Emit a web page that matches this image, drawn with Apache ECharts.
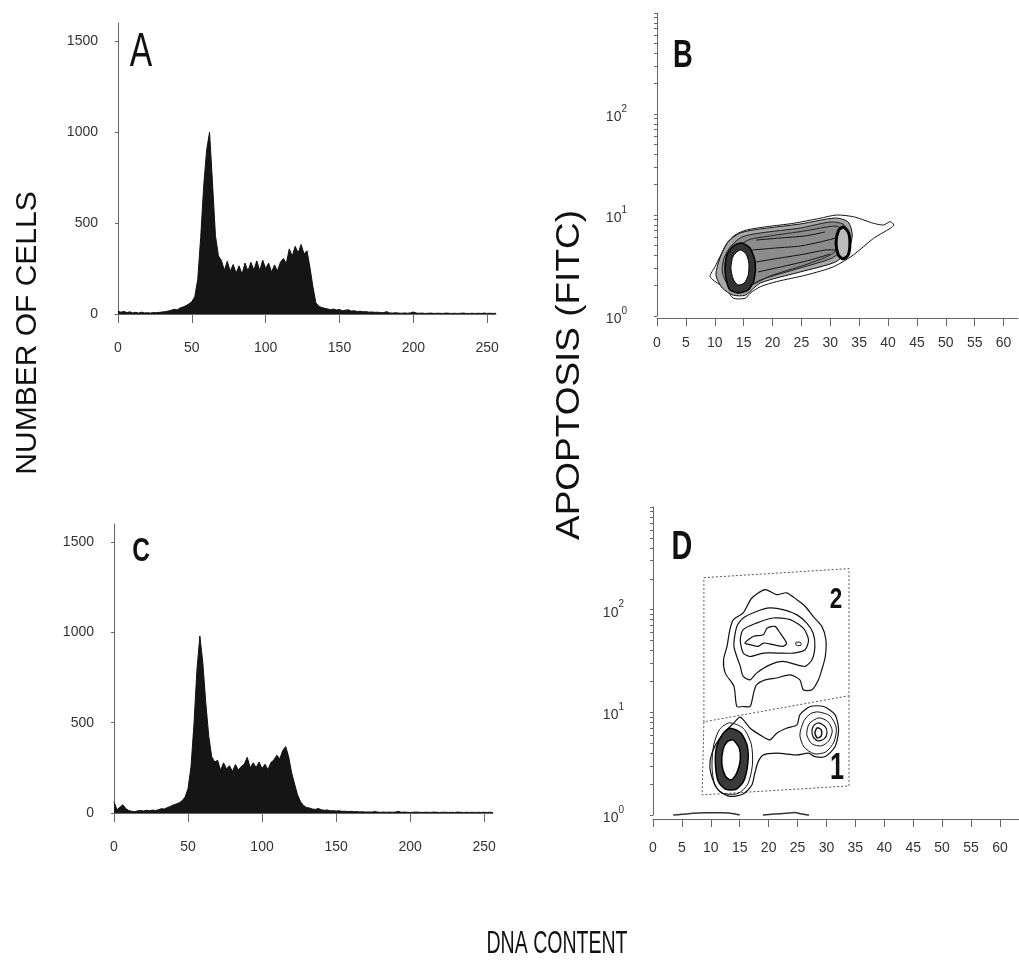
<!DOCTYPE html>
<html><head><meta charset="utf-8">
<script src="https://cdn.jsdelivr.net/npm/echarts@6/dist/echarts.min.js"></script>
<style>html,body{margin:0;padding:0;background:#fff}#c{width:1019px;height:969px}</style>
</head><body><div id="c"></div>
<script>
// ---------- tick labels ----------
const histTicks = [0, 50, 100, 150, 200, 250];
const countTicks = [0, 500, 1000, 1500];
const fitcTicks = [1, 10, 100];
const fitcMinorTicks = [1,2,3,4,5,6,7,8,9,10,20,30,40,50,60,70,80,90,100,200,300,400,500,600,700,800,900,1000];
const dnaTicks = [0, 5, 10, 15, 20, 25, 30, 35, 40, 45, 50, 55, 60];

// ---------- histograms (channel bins of width 2) ----------
const channelStep = 2;
const histA = [15,10,14,8,12,6,9,5,10,6,7,5,8,7,9,11,13,16,20,26,22,33,38,46,55,68,95,190,420,700,900,1000,720,430,320,295,240,290,235,272,225,265,218,280,236,284,242,292,238,296,250,280,230,270,236,285,305,278,358,318,372,336,382,330,348,255,150,62,42,36,31,28,24,27,22,25,18,21,23,16,18,14,15,12,13,10,11,9,10,7,8,13,6,5,7,5,4,6,4,6,11,5,4,5,3,4,5,3,4,4,3,5,4,3,4,3,4,5,3,3,4,3,4,3,5,3,4,3,4];
const histC = [62,18,32,46,24,14,9,7,12,14,11,15,13,16,14,18,24,22,30,36,44,50,56,68,88,135,255,490,790,980,830,610,425,312,282,292,236,278,244,262,230,268,238,258,270,308,250,278,252,282,246,270,240,280,294,320,300,346,368,310,222,160,100,62,42,30,28,22,20,25,18,15,17,12,13,11,12,9,10,8,9,7,8,6,7,5,6,5,8,5,4,5,4,5,4,5,9,4,5,4,3,4,5,4,3,4,4,3,5,4,3,4,4,3,4,3,5,4,3,4,3,4,3,4,3,4,3,4,3];

// ---------- panel B contours (DNA content, FITC) ----------
const bOuter = [[9.2,2.45],[10.9,2.03],[12.1,1.81],[13.2,1.5],[15.3,1.5],[16.1,1.68],[17.9,1.95],[20.7,2.19],[25.9,2.55],[30.6,3.08],[34.0,4.02],[37.5,5.88],[40.4,7.39],[41.0,7.96],[40.4,8.59],[39.2,7.96],[37.5,8.27],[35.8,8.92],[34.0,9.62],[31.1,10.0],[28.2,9.27],[23.6,8.27],[19.0,7.66],[15.5,7.1],[13.5,6.34],[12.1,5.25],[10.9,3.86],[10.05,3.08]];
const bC2 = [[10.2,2.55],[11.3,1.89],[13.2,1.61],[15.3,1.61],[17.9,2.12],[24.8,2.73],[30.9,3.43],[33.1,4.5],[33.8,6.34],[33.1,8.53],[30.9,9.34],[24.8,8.15],[17.9,7.27],[14.4,6.64],[12.3,5.4],[10.9,3.75]];
const bC3 = [[11.3,2.73],[12.3,2.03],[14.4,1.77],[17.9,2.27],[24.8,2.99],[30.3,3.75],[32.6,4.93],[33.1,6.79],[32.2,8.15],[30.0,8.53],[24.8,7.43],[17.9,6.64],[14.7,6.06],[12.8,4.93],[11.6,3.75]];
const bC4 = [[12.3,2.85],[13.5,2.12],[15.8,1.98],[19.6,2.49],[25.6,3.2],[30.0,4.02],[32.1,5.28],[32.2,6.95],[31.0,7.78],[25.6,6.95],[19.6,6.2],[15.8,5.65],[13.5,4.5],[12.5,3.58]];
const bL1 = [[16.5,4.5],[20.5,4.71],[24.8,4.93],[28.2,5.4],[31.0,5.92]];
const bL2 = [[17.2,3.43],[21.3,3.75],[25.6,4.11],[29.1,4.5],[31.0,4.5]];
const bL3 = [[17.2,5.65],[21.3,5.92],[25.6,6.2],[29.1,6.79]];
const bL4 = [[17.5,2.73],[22.2,3.13],[26.5,3.58],[30.0,4.11]];
const bRing = [[14.6,5.28],[16.1,4.71],[17.0,3.43],[16.8,2.27],[15.8,1.81],[14.0,1.69],[12.5,1.85],[11.8,2.73],[12.1,4.02],[13.2,4.93]];
const bHole = [[14.4,4.5],[15.4,4.11],[15.9,3.35],[15.8,2.55],[15.1,2.12],[14.0,2.03],[13.2,2.32],[12.8,2.99],[13.2,3.93]];
const bRight = [[32.2,7.6],[33.1,6.79],[33.4,5.28],[33.1,4.02],[32.2,3.67],[31.4,4.02],[31.0,5.28],[31.4,6.95]];

// ---------- panel D gates and contours ----------
const dGate2 = [[8.8,205],[33.9,251],[33.9,14.5],[8.8,8.08]];
const dGate1 = [[33.9,14.5],[33.9,1.92],[8.5,1.57],[8.8,8.08]];
const dUp1 = [[14.5,11.4],[14.0,17.9],[12.5,24.1],[12.2,32.5],[12.8,43.9],[13.3,63.8],[13.9,79.9],[15.6,92.9],[17.1,130],[19.4,157],[21.4,140],[23.1,146],[24.9,125],[26.3,108],[27.7,86],[29.2,68.7],[29.9,51],[29.8,35],[29.2,26],[28.6,20.7],[27.5,16.6],[26.0,16.6],[25.4,20.7],[23.7,23.2],[21.4,21.6],[19.4,20.7],[17.9,18.5],[17.4,15.4],[16.8,11.4],[15.6,11.4]];
const dUp2 = [[15.1,28],[14.0,43.9],[14.5,68.7],[15.6,83],[17.9,96],[20.2,104],[22.5,100],[24.9,89],[26.6,74],[27.7,59],[28.0,43.9],[27.5,32.5],[26.3,28],[24.9,29],[22.5,31.3],[20.2,29],[17.9,24.1],[16.8,20.7],[15.6,22.4]];
const dUp3 = [[15.1,51],[15.6,63.8],[17.9,74],[20.8,83],[23.7,80],[26.0,66],[26.9,51],[26.3,40.7],[24.3,37.8],[21.4,37.8],[19.1,37.8],[16.8,35],[15.6,37.8]];
const dUp4 = [[15.9,47.3],[17.4,55],[19.1,57],[19.7,66],[21.1,68.7],[22.0,59],[23.1,47.3],[22.5,43.9],[20.8,45.6],[19.1,47.3],[18.2,43.9],[16.8,45.6]];
const dUpDot = [[24.7,48],[25.5,48],[25.6,45],[24.8,45]];
const dLowOuter = [[15.1,8.98],[16.8,7.0],[18.5,6.03],[20.2,5.39],[21.4,6.27],[23.1,7.0],[24.9,7.55],[25.4,9.46],[27.2,11.4],[29.5,11.4],[31.5,9.46],[32.1,6.75],[31.5,4.64],[29.8,3.71],[28.0,3.71],[26.9,4.0],[24.9,3.85],[21.4,4.0],[19.1,3.85],[18.2,3.31],[17.6,2.55],[17.1,1.96],[15.6,1.6],[13.3,1.52],[11.3,1.75],[10.0,2.55],[9.9,3.44],[10.8,4.8],[12.6,6.6],[13.9,7.8]];
const dLeft0 = [[13.2,7.9],[15.6,7.0],[17.0,4.9],[17.2,3.1],[16.4,2.0],[14.7,1.62],[12.2,1.62],[10.7,1.95],[10.2,3.0],[10.5,4.8],[11.5,6.8]];
const dLeft1 = [[13.3,7.0],[15.2,6.3],[16.3,4.7],[16.4,3.2],[15.7,2.15],[14.4,1.78],[12.6,1.78],[11.3,2.12],[10.8,3.1],[11.0,4.6],[12.0,6.1]];
const dHole = [[13.8,5.39],[14.9,4.51],[15.1,3.44],[14.5,2.57],[13.5,2.19],[12.5,2.4],[11.9,3.15],[12.1,4.31],[12.8,5.15]];
const dRa = [[28.5,10.1],[30.6,9.25],[31.7,7.06],[31.3,5.15],[29.9,4.12],[27.9,3.94],[26.1,4.61],[25.4,6.03],[26.1,8.26],[27.2,9.67]];
const dRb = [[28.7,8.84],[30.3,8.08],[31.0,6.6],[30.4,5.27],[29.1,4.71],[27.5,4.93],[26.6,6.03],[27.0,7.72]];
const dRc = [[28.7,7.9],[29.8,7.22],[30.1,6.31],[29.6,5.51],[28.5,5.27],[27.7,5.77],[27.5,6.75],[27.9,7.55]];
const dRn = [[28.4,7.06],[29.1,6.75],[29.1,5.9],[28.4,5.64],[28.0,6.31]];
const dBase1 = [[3.5,1.0],[5,1.015],[7,1.04],[9,1.05],[12,1.05],[14,1.03],[15,1.0]];
const dBase2 = [[19,1.0],[21,1.02],[23,1.04],[24.5,1.06],[25.5,1.03],[27,1.0]];

// ---------- build ----------
const FONT = 'Liberation Sans';
const INK = '#111';
function histPairs(arr){ return arr.map((v,i)=>[i*channelStep, v]); }

const shapesB = [
  {pts:bOuter, closed:true, fill:'none', stroke:INK, w:1},
  {pts:bC2, closed:true, fill:'#a8a8a8', stroke:INK, w:1},
  {pts:bC3, closed:true, fill:'#8c8c8c', stroke:'#222', w:1},
  {pts:bC4, closed:true, fill:'none', stroke:'#222', w:1},
  {pts:bL1, closed:false, fill:'none', stroke:'#111', w:1},
  {pts:bL2, closed:false, fill:'none', stroke:'#111', w:1},
  {pts:bL3, closed:false, fill:'none', stroke:'#111', w:1},
  {pts:bL4, closed:false, fill:'none', stroke:'#111', w:1},
  {pts:bRight, closed:true, fill:'#bbb', stroke:'#000', w:3},
  {pts:bRing, closed:true, fill:'#333', stroke:'#000', w:1.5},
  {pts:bHole, closed:true, fill:'#fff', stroke:'#000', w:1}
];
const shapesD = [
  {pts:dGate2, closed:true, fill:'none', stroke:'#555', w:1, dash:[2,2], smooth:0},
  {pts:dGate1, closed:false, fill:'none', stroke:'#555', w:1, dash:[2,2], smooth:0},
  {pts:dUp1, closed:true, fill:'none', stroke:INK, w:1.2},
  {pts:dUp2, closed:true, fill:'none', stroke:INK, w:1.2},
  {pts:dUp3, closed:true, fill:'none', stroke:INK, w:1.2},
  {pts:dUp4, closed:true, fill:'none', stroke:INK, w:1.2},
  {pts:dUpDot, closed:true, fill:'none', stroke:INK, w:1},
  {pts:dLowOuter, closed:true, fill:'none', stroke:INK, w:1.2},
  {pts:dLeft0, closed:true, fill:'none', stroke:INK, w:1},
  {pts:dLeft1, closed:true, fill:'#3a3a3a', stroke:'#000', w:1.5},
  {pts:dHole, closed:true, fill:'#fff', stroke:'#000', w:1.5},
  {pts:dRa, closed:true, fill:'none', stroke:INK, w:1},
  {pts:dRb, closed:true, fill:'none', stroke:INK, w:1},
  {pts:dRc, closed:true, fill:'none', stroke:INK, w:1.2},
  {pts:dRn, closed:true, fill:'#fff', stroke:INK, w:1.5},
  {pts:dBase1, closed:false, fill:'none', stroke:'#333', w:1.5},
  {pts:dBase2, closed:false, fill:'none', stroke:'#333', w:1.5}
];

function contourSeries(shapes, axisIdx){
  return {
    type:'custom', xAxisIndex:axisIdx, yAxisIndex:axisIdx, silent:true,
    data: shapes.map((s,i)=>[s.pts[0][0], s.pts[0][1], i]),
    encode:{x:0, y:1},
    renderItem:(params, api)=>{
      const s = shapes[api.value(2)];
      const pts = s.pts.map(p=>api.coord(p));
      return {
        type: s.closed ? 'polygon' : 'polyline',
        shape:{points:pts, smooth: s.smooth === undefined ? 0.25 : s.smooth},
        style:{fill: s.closed ? s.fill : null, stroke:s.stroke, lineWidth:s.w, lineDash:s.dash || null}
      };
    }
  };
}

const axisLineStyle = {color:'#666', width:1};
const labelBase = {color:'#333', fontSize:14, fontFamily:FONT, formatter:(v)=>String(v)};

function histX(grid){
  return {type:'value', gridIndex:grid, min:0, max:256, offset:3,
    axisLine:{show:true, lineStyle:axisLineStyle},
    axisTick:{show:true, customValues:histTicks, length:9, lineStyle:axisLineStyle},
    axisLabel:Object.assign({customValues:histTicks, margin:24}, labelBase),
    splitLine:{show:false}};
}
function histY(grid){
  return {type:'value', gridIndex:grid, min:0, max:1600,
    axisLine:{show:true, lineStyle:axisLineStyle},
    axisTick:{show:true, customValues:countTicks, length:3, lineStyle:axisLineStyle},
    axisLabel:Object.assign({customValues:countTicks, margin:20}, labelBase),
    splitLine:{show:false}};
}
function dnaX(grid, max, off, margin){
  return {type:'value', gridIndex:grid, min:0, max:max, offset:off,
    axisLine:{show:true, lineStyle:axisLineStyle},
    axisTick:{show:true, customValues:dnaTicks, length:8, lineStyle:axisLineStyle},
    axisLabel:Object.assign({customValues:dnaTicks, margin:margin}, labelBase),
    splitLine:{show:false}};
}
function fitcY(grid, off, margin){
  return {type:'log', logBase:10, gridIndex:grid, min:1, max:1000, offset:off,
    axisLine:{show:true, lineStyle:axisLineStyle},
    axisTick:{show:true, customValues:fitcMinorTicks, length:3, lineStyle:axisLineStyle},
    axisLabel:{customValues:fitcTicks, margin:margin, color:'#333', fontFamily:FONT,
      formatter:(v)=>'{b|10}{s|' + Math.round(Math.log10(v)) + '}',
      rich:{b:{fontSize:14, fontFamily:FONT, color:'#333', verticalAlign:'bottom', lineHeight:20},
            s:{fontSize:10, fontFamily:FONT, color:'#333', verticalAlign:'top', lineHeight:20}}},
    splitLine:{show:false}};
}

const option = {
  backgroundColor:'#fff',
  animation:false,
  grid:[
    {left:118, top:23, width:378, height:291},
    {left:657, top:13, width:361, height:303},
    {left:114, top:524, width:379, height:289},
    {left:653, top:507, width:366, height:308}
  ],
  xAxis:[histX(0), dnaX(1, 62.5, 2, 18), histX(2), dnaX(3, 63.3, 4, 22)],
  yAxis:[histY(0), fitcY(1, 4, 26), histY(2), fitcY(3, 5, 24)],
  series:[
    {type:'line', xAxisIndex:0, yAxisIndex:0, data:histPairs(histA), showSymbol:false, silent:true,
     lineStyle:{color:'#111', width:1}, areaStyle:{color:'#151515', opacity:1}},
    {type:'line', xAxisIndex:2, yAxisIndex:2, data:histPairs(histC), showSymbol:false, silent:true,
     lineStyle:{color:'#111', width:1}, areaStyle:{color:'#151515', opacity:1}},
    contourSeries(shapesB, 1),
    contourSeries(shapesD, 3)
  ],
  graphic:[
    {type:'text', x:28, y:333, rotation:Math.PI/2, style:{text:'NUMBER OF CELLS', fontSize:30, fontFamily:FONT, fill:'#111', textAlign:'center', textVerticalAlign:'middle'}},
    {type:'text', x:570, y:375, rotation:Math.PI/2, scaleX:1.12, style:{text:'APOPTOSIS (FITC)', fontSize:33, fontFamily:FONT, fill:'#111', textAlign:'center', textVerticalAlign:'middle'}},
    {type:'text', x:557, y:944, scaleX:0.63, style:{text:'DNA CONTENT', fontSize:31, fontFamily:FONT, fill:'#111', textAlign:'center', textVerticalAlign:'middle'}},
    {type:'text', x:141, y:53, scaleX:0.7, style:{text:'A', fontSize:48, fontFamily:FONT, fill:'#111', textAlign:'center', textVerticalAlign:'middle'}},
    {type:'text', x:683, y:57, scaleX:0.72, style:{text:'B', fontSize:38, fontWeight:'bold', fontFamily:FONT, fill:'#111', textAlign:'center', textVerticalAlign:'middle'}},
    {type:'text', x:141, y:552, scaleX:0.72, style:{text:'C', fontSize:34, fontWeight:'bold', fontFamily:FONT, fill:'#111', textAlign:'center', textVerticalAlign:'middle'}},
    {type:'text', x:682, y:548, scaleX:0.72, style:{text:'D', fontSize:40, fontWeight:'bold', fontFamily:FONT, fill:'#111', textAlign:'center', textVerticalAlign:'middle'}},
    {type:'text', x:836, y:600, scaleX:0.75, style:{text:'2', fontSize:30, fontWeight:'bold', fontFamily:FONT, fill:'#111', textAlign:'center', textVerticalAlign:'middle'}},
    {type:'text', x:837, y:769, scaleX:0.7, style:{text:'1', fontSize:36, fontWeight:'bold', fontFamily:FONT, fill:'#111', textAlign:'center', textVerticalAlign:'middle'}}
  ]
};
const chart = echarts.init(document.getElementById('c'), null, {renderer:'canvas'});
chart.setOption(option);
</script></body></html>
